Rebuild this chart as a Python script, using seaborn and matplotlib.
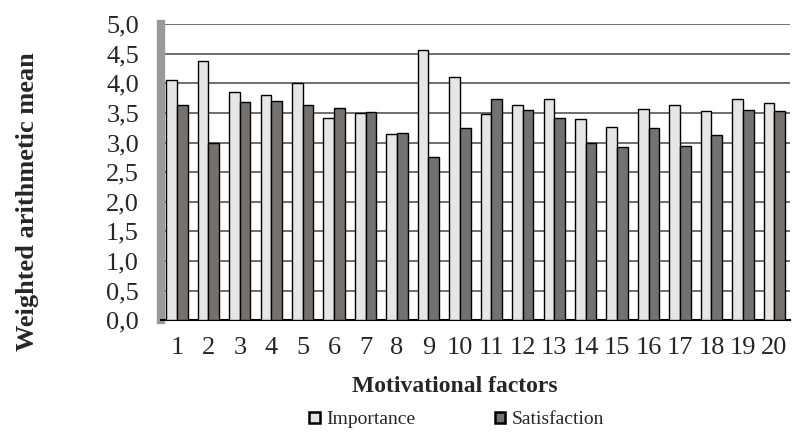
import matplotlib
matplotlib.use("Agg")
import matplotlib.pyplot as plt
from matplotlib.patches import Patch
import numpy as np
import pandas as pd
import seaborn as sns

# values (weighted arithmetic means)
factors = [str(i) for i in range(1, 21)]
importance = [4.05, 4.38, 3.85, 3.80, 4.00, 3.42, 3.50, 3.15, 4.57, 4.10,
              3.48, 3.63, 3.73, 3.40, 3.27, 3.56, 3.63, 3.54, 3.74, 3.66]
satisfaction = [3.63, 3.00, 3.68, 3.70, 3.63, 3.58, 3.52, 3.16, 2.75, 3.25,
                3.73, 3.55, 3.42, 3.00, 2.92, 3.25, 2.94, 3.13, 3.55, 3.53]
y_ticks = [0.0, 0.5, 1.0, 1.5, 2.0, 2.5, 3.0, 3.5, 4.0, 4.5, 5.0]

df = pd.DataFrame({
    "factor": factors * 2,
    "value": importance + satisfaction,
    "series": ["Importance"] * 20 + ["Satisfaction"] * 20,
})

sns.set_style("white")
plt.rcParams["font.family"] = ["Liberation Serif", "DejaVu Serif"]

colors = {"Importance": "#e6e6e6", "Satisfaction": "#75716e"}

fig = plt.figure(figsize=(7.94, 4.32), dpi=100)
ax = fig.add_axes([0.203, 0.259, 0.792, 0.685])

sns.barplot(data=df, x="factor", y="value", hue="series", order=factors,
            hue_order=["Importance", "Satisfaction"], palette=colors,
            width=0.68, saturation=1, edgecolor="black", linewidth=1.0,
            legend=False, ax=ax, zorder=3)

ax.set_ylim(0, 5)
ax.set_xlim(-0.5, 19.5)
ax.set_yticks(y_ticks)
ax.set_yticklabels([f"{v:.1f}".replace(".", ",") for v in y_ticks])
ax.yaxis.grid(True, color="#6e6e6e", linewidth=1.4, zorder=0)
ax.set_axisbelow(True)

# category labels centred, tick marks between categories
ax.set_xticks(np.arange(len(factors)))
ax.set_xticklabels(factors)
ax.tick_params(axis="x", which="major", length=0, pad=12, labelsize=19)
ax.set_xticks(np.arange(len(factors) + 1) - 0.5, minor=True)
ax.tick_params(axis="x", which="minor", length=5, width=1.5, color="black",
               direction="out")
ax.tick_params(axis="y", length=7, width=2, color="black", direction="out",
               labelsize=19, pad=9)

for side in ["top", "right"]:
    ax.spines[side].set_visible(False)
ax.spines["left"].set_color("#9a9a9a")
ax.spines["left"].set_linewidth(6)
ax.spines["bottom"].set_color("black")
ax.spines["bottom"].set_linewidth(1.5)

ax.set_xlabel("Motivational factors", fontsize=17, fontweight="bold")
ax.xaxis.set_label_coords(0.467, -0.19)
ax.set_ylabel("Weighted arithmetic mean", fontsize=19, fontweight="bold")
ax.yaxis.set_label_coords(-0.195, 0.402)

handles = [Patch(facecolor=colors[k], edgecolor="black", linewidth=1.8, label=k)
           for k in ["Importance", "Satisfaction"]]
fig.legend(handles=handles, loc="center", bbox_to_anchor=(0.575, 0.028),
           ncol=2, frameon=False, fontsize=14, handlelength=0.55,
           handleheight=0.55, handletextpad=0.3, columnspacing=4.1)

fig.savefig("out.png", dpi=100)
